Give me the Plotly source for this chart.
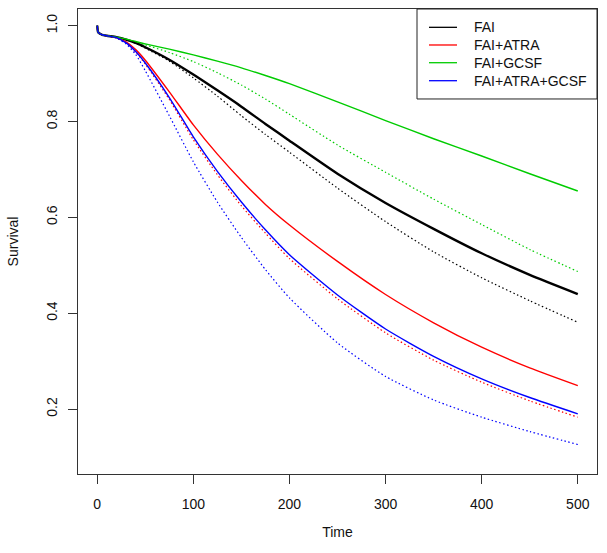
import plotly.graph_objects as go

# Time points (shared by all curves)
time = [0, 1, 3, 5, 10, 20, 30, 40, 50, 75, 100, 125, 150, 175, 200, 250, 300, 350, 400, 450, 500]

# Solid curves
fai = [1.0, 0.986, 0.983, 0.981, 0.979, 0.976, 0.971, 0.964, 0.955, 0.929, 0.898, 0.865, 0.831, 0.795,
       0.760, 0.691, 0.630, 0.576, 0.525, 0.480, 0.440]
fai_atra = [1.0, 0.986, 0.983, 0.981, 0.979, 0.975, 0.966, 0.950, 0.928, 0.862, 0.793, 0.732, 0.677, 0.627,
            0.584, 0.508, 0.439, 0.380, 0.329, 0.286, 0.249]
fai_gcsf = [1.0, 0.986, 0.983, 0.981, 0.979, 0.976, 0.972, 0.967, 0.962, 0.951, 0.939, 0.926, 0.912, 0.896,
            0.879, 0.841, 0.802, 0.764, 0.728, 0.691, 0.655]
fai_atra_gcsf = [1.0, 0.986, 0.983, 0.981, 0.979, 0.975, 0.964, 0.946, 0.922, 0.850, 0.768, 0.696, 0.632, 0.574,
                 0.522, 0.438, 0.367, 0.310, 0.263, 0.224, 0.190]

# Dotted curves
fai_dot = [1.0, 0.986, 0.983, 0.981, 0.979, 0.976, 0.971, 0.963, 0.953, 0.926, 0.891, 0.853, 0.812, 0.773,
           0.736, 0.661, 0.591, 0.528, 0.474, 0.426, 0.381]
fai_atra_dot = [1.0, 0.986, 0.983, 0.981, 0.979, 0.975, 0.964, 0.945, 0.920, 0.846, 0.762, 0.689, 0.624, 0.567,
                0.514, 0.430, 0.359, 0.302, 0.256, 0.217, 0.183]
fai_gcsf_dot = [1.0, 0.986, 0.983, 0.981, 0.979, 0.976, 0.972, 0.966, 0.960, 0.944, 0.925, 0.902, 0.876, 0.847,
                0.815, 0.751, 0.694, 0.638, 0.585, 0.533, 0.487]
fai_atra_gcsf_dot = [1.0, 0.986, 0.983, 0.981, 0.979, 0.974, 0.962, 0.940, 0.906, 0.812, 0.716, 0.632, 0.558, 0.491,
                     0.432, 0.338, 0.268, 0.219, 0.183, 0.153, 0.126]

names = ["FAI", "FAI+ATRA", "FAI+GCSF", "FAI+ATRA+GCSF"]
colors = ["#000000", "#FF0000", "#00CC00", "#0000FF"]
solid = [fai, fai_atra, fai_gcsf, fai_atra_gcsf]
dotted = [fai_dot, fai_atra_dot, fai_gcsf_dot, fai_atra_gcsf_dot]
widths = [2.4, 1.4, 1.4, 1.4]

FONT = "Liberation Sans, Arial, Helvetica, sans-serif"

fig = go.Figure()
for n, c, d in zip(names, colors, dotted):
    fig.add_trace(go.Scatter(x=time, y=d, mode="lines", name=n + " (dotted)", showlegend=False,
                             line=dict(color=c, width=1.2, dash="1.5px,2.5px",
                                       shape="spline", smoothing=0.6)))
for n, c, s, w in zip(names, colors, solid, widths):
    fig.add_trace(go.Scatter(x=time, y=s, mode="lines", name=n, showlegend=False,
                             line=dict(color=c, width=w, shape="spline", smoothing=0.6)))

axis_common = dict(showgrid=False, zeroline=False, showline=True, mirror=True,
                   linecolor="#333333", linewidth=1, ticks="outside", ticklen=9,
                   tickwidth=1, tickcolor="#333333",
                   tickfont=dict(family=FONT, size=14, color="#111111"))

# Legend drawn as a boxed key in the top-right corner of the plot area (paper coords)
LX0, LX1, LY0, LY1 = 0.6532, 1.0, 0.8065, 1.0
SEG_X0, SEG_X1, TXT_X = 0.6763, 0.7303, 0.7592
ROW_Y = [0.9606, 0.9226, 0.8845, 0.8458]

shapes = [dict(type="rect", xref="paper", yref="paper", x0=LX0, x1=LX1, y0=LY0, y1=LY1,
               line=dict(color="#222222", width=1), fillcolor="white", layer="above")]
annotations = []
for n, c, ry in zip(names, colors, ROW_Y):
    shapes.append(dict(type="line", xref="paper", yref="paper", x0=SEG_X0, x1=SEG_X1, y0=ry, y1=ry,
                       line=dict(color=c, width=1.3), layer="above"))
    annotations.append(dict(xref="paper", yref="paper", x=TXT_X, y=ry, text=n, showarrow=False,
                            xanchor="left", yanchor="middle",
                            font=dict(family=FONT, size=14, color="#111111")))

fig.update_layout(
    width=607, height=553,
    margin=dict(l=78, r=10, t=9, b=79),
    paper_bgcolor="white", plot_bgcolor="white",
    font=dict(family=FONT, size=14, color="#111111"),
    xaxis=dict(range=[-20, 520], tickvals=[0, 100, 200, 300, 400, 500],
               ticktext=["0", "100", "200", "300", "400", "500"],
               ticklabelstandoff=8,
               title=dict(text="Time", standoff=16, font=dict(family=FONT, size=14)),
               **axis_common),
    yaxis=dict(range=[0.0644, 1.0348], tickvals=[0.2, 0.4, 0.6, 0.8, 1.0],
               ticktext=["0.2", "0.4", "0.6", "0.8", "1.0"], tickangle=-90,
               ticklabelstandoff=5,
               title=dict(text="Survival", standoff=22, font=dict(family=FONT, size=14)),
               **axis_common),
    shapes=shapes,
    annotations=annotations,
    showlegend=False,
)

fig.write_html("out.html", config={"displayModeBar": False},
               post_script="document.body.style.margin='0';document.body.style.overflow='hidden';")
